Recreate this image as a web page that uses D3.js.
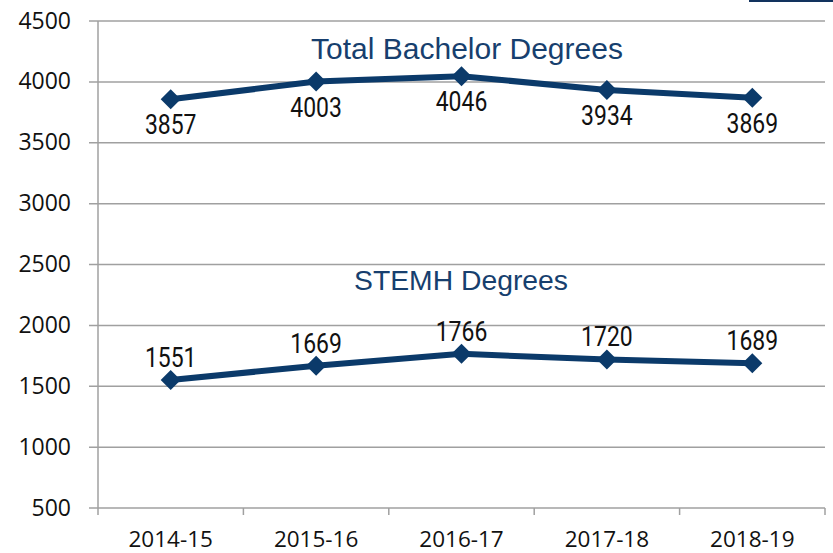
<!DOCTYPE html>
<html>
<head>
<meta charset="utf-8">
<script src="https://cdn.jsdelivr.net/npm/d3@7"></script>
<style>
  body { margin: 0; background: #fff; }
  svg { display: block; }
</style>
</head>
<body>
<div class="chart"></div>
<script>
const years = ['2014-15', '2015-16', '2016-17', '2017-18', '2018-19'];
const totalDegrees = [3857, 4003, 4046, 3934, 3869];
const stemhDegrees = [1551, 1669, 1766, 1720, 1689];
const yTicks = [500, 1000, 1500, 2000, 2500, 3000, 3500, 4000, 4500];

const config = {
  width: 833,
  height: 553,
  left: 98,
  right: 825,
  top: 21,
  bottom: 508
};

const lineColor = '#0b3a6a';
const titleColor = '#173f6e';
const gridColor = '#a0a0a0';
const tickFont = '"Open Sans", "Noto Sans", sans-serif';
const labelFont = 'Roboto, "Liberation Sans", sans-serif';
const titleFont = '"Liberation Sans", Arial, sans-serif';

const svg = d3.select('.chart')
  .append('svg')
  .attr('width', config.width)
  .attr('height', config.height);

const x = d3.scaleBand()
  .domain(years)
  .range([config.left, config.right]);

const y = d3.scaleLinear()
  .domain([500, 4500])
  .range([config.bottom, config.top]);

// top-right corner fragment
svg.append('rect')
  .attr('x', 749).attr('y', 0)
  .attr('width', 84).attr('height', 2)
  .attr('fill', '#12335e');

// gridlines
svg.append('g')
  .selectAll('line')
  .data(yTicks)
  .enter()
  .append('line')
  .attr('x1', config.left - 9)
  .attr('x2', config.right)
  .attr('y1', d => y(d))
  .attr('y2', d => y(d))
  .attr('stroke', gridColor)
  .attr('stroke-width', 1.5);

// y axis line
svg.append('line')
  .attr('x1', config.left).attr('x2', config.left)
  .attr('y1', config.top).attr('y2', config.bottom + 7)
  .attr('stroke', gridColor)
  .attr('stroke-width', 1.5);

// x tick marks at band edges
const edges = years.map(d => x(d) + x.bandwidth());
svg.append('g')
  .selectAll('line')
  .data(edges)
  .enter()
  .append('line')
  .attr('x1', d => d).attr('x2', d => d)
  .attr('y1', config.bottom).attr('y2', config.bottom + 7)
  .attr('stroke', gridColor)
  .attr('stroke-width', 1.5);

// y tick labels
svg.append('g')
  .selectAll('text')
  .data(yTicks)
  .enter()
  .append('text')
  .attr('x', 71)
  .attr('y', d => y(d) + 7.5)
  .attr('text-anchor', 'end')
  .attr('font-family', tickFont)
  .attr('font-size', 23)
  .attr('fill', '#111')
  .text(d => d);

// x tick labels
svg.append('g')
  .selectAll('text')
  .data(years)
  .enter()
  .append('text')
  .attr('x', d => x(d) + x.bandwidth() / 2)
  .attr('y', 547)
  .attr('text-anchor', 'middle')
  .attr('font-family', tickFont)
  .attr('font-size', 22.5)
  .attr('fill', '#111')
  .text(d => d);

function drawSeries(values, labelDy) {
  const pts = values.map((v, i) => ({ year: years[i], value: v }));
  const cx = d => x(d.year) + x.bandwidth() / 2;

  const line = d3.line()
    .x(cx)
    .y(d => y(d.value));

  const g = svg.append('g');

  g.append('path')
    .datum(pts)
    .attr('d', line)
    .attr('fill', 'none')
    .attr('stroke', lineColor)
    .attr('stroke-width', 6)
    .attr('stroke-linejoin', 'round');

  g.selectAll('path.marker')
    .data(pts)
    .enter()
    .append('path')
    .attr('class', 'marker')
    .attr('d', d3.symbol(d3.symbolSquare, 200))
    .attr('transform', d => `translate(${cx(d)},${y(d.value)}) rotate(45)`)
    .attr('fill', lineColor);

  // labels are drawn a little condensed, like the original
  g.selectAll('text.label')
    .data(pts)
    .enter()
    .append('text')
    .attr('class', 'label')
    .attr('transform', d => `translate(${cx(d)},${y(d.value) + labelDy}) scale(0.82,1)`)
    .attr('text-anchor', 'middle')
    .attr('font-family', labelFont)
    .attr('font-size', 28)
    .attr('fill', '#111')
    .text(d => d.value);
}

drawSeries(totalDegrees, 35);
drawSeries(stemhDegrees, -13);

// series titles
svg.append('text')
  .attr('x', 467)
  .attr('y', 59)
  .attr('text-anchor', 'middle')
  .attr('font-family', titleFont)
  .attr('font-size', 30)
  .attr('fill', titleColor)
  .text('Total Bachelor Degrees');

svg.append('text')
  .attr('x', 354)
  .attr('y', 290)
  .attr('font-family', titleFont)
  .attr('font-size', 27)
  .attr('textLength', 214)
  .attr('lengthAdjust', 'spacingAndGlyphs')
  .attr('fill', titleColor)
  .text('STEMH Degrees');
</script>
</body>
</html>
